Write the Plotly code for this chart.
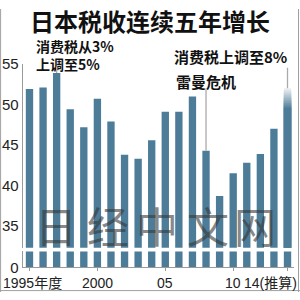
import plotly.graph_objects as go

years = list(range(1995, 2015))
revenue = [51.9, 52.1, 53.9, 49.4, 47.2, 50.7, 47.9, 43.8, 43.3, 45.6,
           49.1, 49.1, 51.0, 44.3, 38.7, 41.5, 42.8, 43.9, 47.0, 52.0]
y_ticks_upper = [35, 40, 45, 50, 55]
x_tick_years = [1995, 2000, 2005, 2010, 2014]
x_tick_labels = ["1995年度", "2000", "05", "10", "14(推算)"]
title = "日本税收连续五年增长"
notes = ["消费税从3%<br>上调至5%", "消费税上调至8%", "雷曼危机"]
note_years = [1997, 2008, 2014]
watermark = ["日", "经", "中", "文", "网"]

BLUE = (76, 124, 152)
GREY = "#9a9a9a"
NARROW = "Liberation Sans Narrow, Liberation Sans, Arial"
TICKFONT = dict(family=NARROW, size=15, color="#222")
CJK = "Noto Sans CJK SC"

fig = go.Figure()

fade = 2.4
nseg = 12
main_vals = revenue[:-1] + [revenue[-1] - fade]
seg = fade / nseg
for k in reversed(range(nseg)):
    t = (k + 1) / (nseg + 1)
    c = tuple(int(BLUE[i] + (248 - BLUE[i]) * t) for i in range(3))
    fig.add_trace(go.Bar(x=[years[-1]], y=[revenue[-1] - fade + (k + 1) * seg],
                         yaxis="y2", xaxis="x",
                         marker=dict(color="rgb(%d,%d,%d)" % c, line=dict(width=0)),
                         hoverinfo="skip"))
for yax in ["y2", "y"]:
    fig.add_trace(go.Bar(x=years, y=main_vals if yax == "y2" else revenue, yaxis=yax, xaxis="x",
                         marker=dict(color="rgb(%d,%d,%d)" % BLUE, line=dict(width=0)),
                         hoverinfo="skip"))

x_dom = [22.7 / 300, 294.3 / 300]
fig.update_layout(
    width=300, height=300,
    margin=dict(l=0, r=0, t=0, b=0),
    paper_bgcolor="white", plot_bgcolor="white",
    showlegend=False,
    barmode="overlay",
    bargap=0.46,
    xaxis=dict(domain=x_dom, range=[1994.5, 2014.5], anchor="y",
               showline=True, linecolor=GREY, linewidth=1,
               tickmode="array", tickvals=x_tick_years, showticklabels=False,
               ticks="outside", ticklen=3, tickcolor=GREY, showgrid=False, zeroline=False),
    yaxis=dict(domain=[26 / 300, 43 / 300], range=[0, 2], anchor="x",
               showline=True, linecolor=GREY, linewidth=1,
               tickmode="array", tickvals=[0], ticktext=["0"], ticks="",
               tickfont=TICKFONT, showgrid=False, zeroline=False),
    yaxis2=dict(domain=[47 / 300, 1 - 58.3 / 300], range=[32.33, 55], anchor="x",
                showline=True, linecolor=GREY, linewidth=1,
                tickmode="array", tickvals=y_ticks_upper, ticks="",
                tickfont=TICKFONT, showgrid=False, zeroline=False),
)

ann = []
ann.append(dict(text="<b>%s</b>" % title, x=0.5, y=1 - 12 / 300, xref="paper", yref="paper",
                xanchor="center", yanchor="middle", showarrow=False, borderpad=0,
                font=dict(family=CJK, size=24, color="#111")))
note_pos = [(35, 48.5), (173, 50), (175, 76.5)]
note_size = [14, 15, 15]
for txt, (px, py), sz in zip(notes, note_pos, note_size):
    ann.append(dict(text="<b>%s</b>" % txt, x=px / 300, y=1 - py / 300, xref="paper", yref="paper",
                    xanchor="left", yanchor="middle", align="left", showarrow=False, borderpad=0,
                    font=dict(family=CJK, size=sz, color="#111")))
offsets = [-8, -64, -22]
for yr, off in zip(note_years, offsets):
    v = revenue[years.index(yr)]
    ann.append(dict(text="", x=yr, y=v, xref="x", yref="y2", showarrow=True,
                    arrowhead=0, arrowwidth=1.3, arrowcolor="#aaaaaa", ax=0, ay=off, standoff=0))
for i, (yr, lab) in enumerate(zip(x_tick_years, x_tick_labels)):
    a = dict(text=lab, y=1 - 290 / 300, yref="paper", yanchor="middle", borderpad=0,
             showarrow=False, font=dict(family=NARROW + ", " + CJK, size=14, color="#222"))
    if i == 0:
        a.update(x=2 / 300, xref="paper", xanchor="left")
    elif i == len(x_tick_years) - 1:
        a.update(x=298 / 300, xref="paper", xanchor="right")
    else:
        a.update(x=yr, xref="x", xanchor="center")
    ann.append(a)
wm_x = [56, 108, 157, 208, 255]
for ch, px in zip(watermark, wm_x):
    ann.append(dict(text=ch, x=px / 300, y=1 - 228 / 300, xref="paper", yref="paper",
                    xanchor="center", yanchor="middle", showarrow=False,
                    font=dict(family=CJK, size=42, color="rgba(55,55,55,0.6)")))
fig.update_layout(annotations=ann)

for x0, y0, x1, y1 in [(0.002, 0, 0.002, 1), (0.995, 0, 0.995, 1), (0, 0.005, 1, 0.005)]:
    fig.add_shape(type="line", xref="paper", yref="paper", x0=x0, y0=y0, x1=x1, y1=y1,
                  line=dict(color="#a0a0a0", width=1))

fig.write_html("out.html")
